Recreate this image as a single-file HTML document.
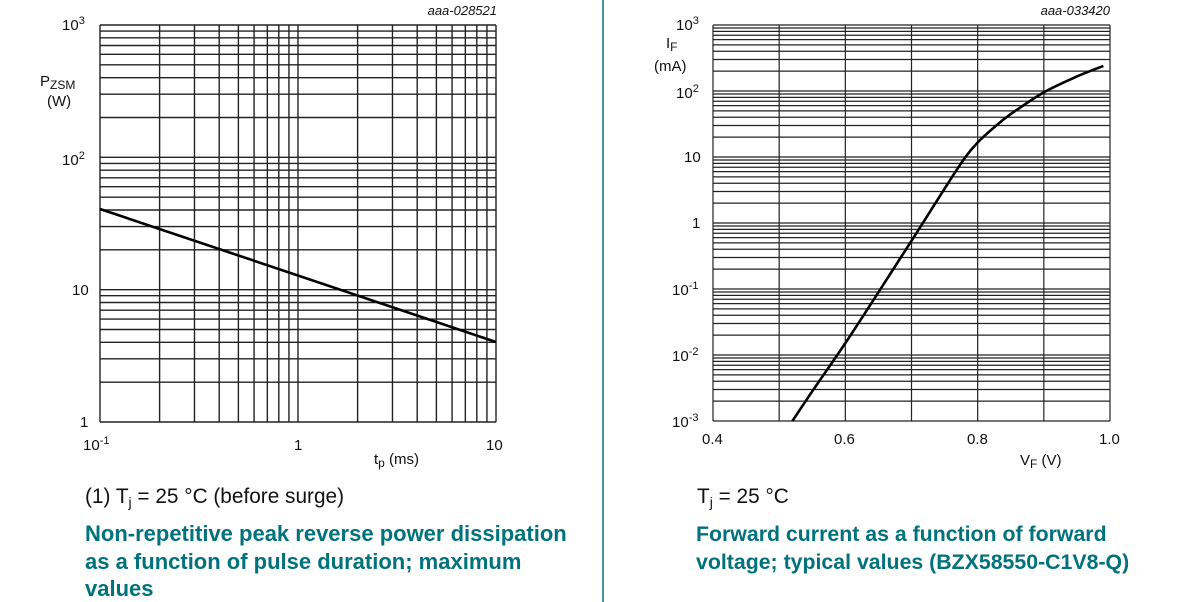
<!DOCTYPE html>
<html><head><meta charset="utf-8"><style>
html,body{margin:0;padding:0;background:#fff;width:1200px;height:602px;overflow:hidden}
svg{display:block;font-family:"Liberation Sans",sans-serif}
</style></head><body>
<svg id="s" width="1200" height="602" viewBox="0 0 1200 602" xmlns="http://www.w3.org/2000/svg">
<g id="g1" stroke="#222" stroke-width="1.4" fill="none"></g>
<g id="g2" stroke="#222" stroke-width="1.2" fill="none"></g>
<line x1="603" y1="0" x2="603" y2="602" stroke="#4a92a0" stroke-width="2"/>
<polyline points="100,209 496,342" stroke="#000" stroke-width="2.6" fill="none"/>
<path id="c2" stroke="#000" stroke-width="2.6" fill="none"/>
<g font-size="15" fill="#111">
<text x="62" y="30">10<tspan font-size="11" dy="-6">3</tspan></text>
<text x="62" y="165">10<tspan font-size="11" dy="-6">2</tspan></text>
<text x="72" y="295">10</text>
<text x="80" y="427">1</text>
<text x="40" y="86">P<tspan font-size="12" dy="3">ZSM</tspan></text>
<text x="47" y="106">(W)</text>
<text x="83" y="450">10<tspan font-size="11" dy="-6">-1</tspan></text>
<text x="294" y="450">1</text>
<text x="486" y="450">10</text>
<text x="374" y="464">t<tspan font-size="12" dy="3">p</tspan><tspan dy="-3"> (ms)</tspan></text>
<text x="497" y="15" font-size="13" font-style="italic" text-anchor="end">aaa-028521</text>
<text x="676" y="30">10<tspan font-size="11" dy="-6">3</tspan></text>
<text x="666" y="48">I<tspan font-size="12" dy="3">F</tspan></text>
<text x="654" y="71">(mA)</text>
<text x="676" y="98">10<tspan font-size="11" dy="-6">2</tspan></text>
<text x="684" y="162">10</text>
<text x="692" y="228">1</text>
<text x="672" y="295">10<tspan font-size="11" dy="-6">-1</tspan></text>
<text x="672" y="361">10<tspan font-size="11" dy="-6">-2</tspan></text>
<text x="672" y="427">10<tspan font-size="11" dy="-6">-3</tspan></text>
<text x="702" y="444">0.4</text>
<text x="834" y="444">0.6</text>
<text x="967" y="444">0.8</text>
<text x="1099" y="444">1.0</text>
<text x="1020" y="465">V<tspan font-size="12" dy="3">F</tspan><tspan dy="-3"> (V)</tspan></text>
<text x="1110" y="15" font-size="13" font-style="italic" text-anchor="end">aaa-033420</text>
</g>
<g font-size="20.8" fill="#111">
<text x="85" y="503">(1) T<tspan font-size="14" dy="4">j</tspan><tspan dy="-4"> = 25 °C (before surge)</tspan></text>
<text x="697" y="503">T<tspan font-size="14" dy="4">j</tspan><tspan dy="-4"> = 25 °C</tspan></text>
</g>
<g font-size="22" font-weight="bold" fill="#00727c">
<text x="85" y="541">Non-repetitive peak reverse power dissipation</text>
<text x="85" y="569">as a function of pulse duration; maximum</text>
<text x="85" y="596">values</text>
</g>
<g font-size="21.3" font-weight="bold" fill="#00727c">
<text x="696" y="541">Forward current as a function of forward</text>
<text x="696" y="569">voltage; typical values (BZX58550-C1V8-Q)</text>
</g>
</svg>
<script>
var NS="http://www.w3.org/2000/svg";
function ln(g,x1,y1,x2,y2){var l=document.createElementNS(NS,"line");l.setAttribute("x1",x1);l.setAttribute("y1",y1);l.setAttribute("x2",x2);l.setAttribute("y2",y2);g.appendChild(l);}
var g1=document.getElementById("g1");
var L=100,R=496,T=25,B=422,dx=198,dy=(B-T)/3;
for(var d=0;d<3;d++)for(var m=1;m<10;m++){var y=B-(d+Math.log10(m))*dy;ln(g1,L,y,R,y);}
ln(g1,L,T,R,T);
for(var d=0;d<2;d++)for(var m=1;m<10;m++){var x=L+(d+Math.log10(m))*dx;ln(g1,x,T,x,B);}
ln(g1,R,T,R,B);
var g2=document.getElementById("g2");
var L2=713,R2=1110,T2=25,B2=421,dy2=(B2-T2)/6;
for(var d=0;d<6;d++)for(var m=1;m<10;m++){var y=B2-(d+Math.log10(m))*dy2;ln(g2,L2,y,R2,y);}
ln(g2,L2,T2,R2,T2);
for(var i=0;i<=6;i++){var x=L2+i*(R2-L2)/6;ln(g2,x,T2,x,B2);}
var pts=[[0.52,-3],[0.55,-2.55],[0.6,-1.82],[0.65,-1.05],[0.7,-0.27],[0.75,0.52],[0.78,0.98],[0.8,1.22],[0.825,1.45],[0.85,1.65],[0.9,1.98],[0.95,2.22],[0.99,2.38]];
var P=pts.map(function(p){return [L2+(p[0]-0.4)/0.6*(R2-L2),T2+(3-p[1])*dy2];});
var d="M"+P[0][0]+","+P[0][1];
for(var i=0;i<P.length-1;i++){var p0=P[Math.max(i-1,0)],p1=P[i],p2=P[i+1],p3=P[Math.min(i+2,P.length-1)];
d+=" C"+(p1[0]+(p2[0]-p0[0])/6)+","+(p1[1]+(p2[1]-p0[1])/6)+" "+(p2[0]-(p3[0]-p1[0])/6)+","+(p2[1]-(p3[1]-p1[1])/6)+" "+p2[0]+","+p2[1];}
document.getElementById("c2").setAttribute("d",d);
</script>
</body></html>
